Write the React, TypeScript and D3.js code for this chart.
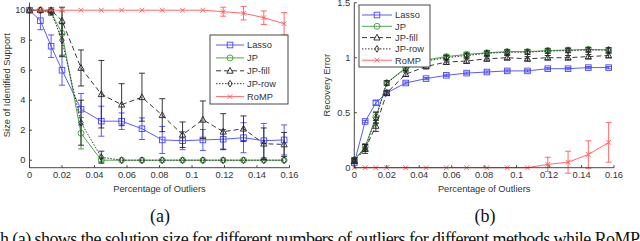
import React from "react";
import * as d3 from "d3";

// ---------- data ----------
const outlierPct = [0, 0.0067, 0.0133, 0.02, 0.0317, 0.0442, 0.0567, 0.0692, 0.0817, 0.0942, 0.1067, 0.1192, 0.1317, 0.1442, 0.1567];
const seriesNames = ["Lasso", "JP", "JP-fill", "JP-row", "RoMP"];
const xTicks = [0, 0.02, 0.04, 0.06, 0.08, 0.1, 0.12, 0.14, 0.16];
const supportTicks = [0, 2, 4, 6, 8, 10];
const recoveryTicks = [0, 0.5, 1, 1.5];

// (a) size of identified support
const lassoSupport = [10, 9.3, 7.6, 6.0, 3.4, 2.6, 2.6, 2.1, 1.35, 1.3, 1.35, 1.4, 1.5, 1.3, 1.35];
const lassoSupportSd = [0, 0.6, 0.75, 1.0, 1.05, 1.0, 0.55, 0.72, 0.9, 0.6, 0.7, 0.65, 1.0, 1.15, 1.0];
const jpSupport = [10, 10, 9.85, 8.45, 1.8, 0, 0, 0, 0, 0, 0, 0, 0, 0, 0];
const jpSupportSd = [0, 0, 0.2, 1.5, 1.05, 0.1, 0, 0, 0, 0, 0, 0, 0, 0, 0];
const jpFillSupport = [10, 10, 10, 9.3, 6.15, 4.4, 3.7, 4.2, 3.0, 1.7, 2.7, 1.9, 2.1, 1.1, 1.05];
const jpFillSupportSd = [0, 0, 0.15, 0.9, 1.2, 2.25, 1.4, 1.6, 1.1, 0.85, 1.25, 1.2, 0.85, 1.05, 0.8];
const jpRowSupport = [10, 10, 9.9, 8.0, 2.5, 0.2, 0, 0, 0, 0, 0, 0, 0, 0, 0];
const jpRowSupportSd = [0, 0, 0.15, 1.1, 1.5, 0.4, 0, 0, 0, 0, 0, 0, 0, 0, 0];
const rompSupport = [10, 10, 10, 10, 10, 10, 10, 10, 10, 10, 10, 9.9, 9.8, 9.5, 9.1];
const rompSupportSd = [0, 0, 0, 0, 0, 0, 0, 0, 0, 0, 0, 0.3, 0.45, 0.45, 0.75];

// (b) recovery error
const lassoRecovery = [0.045, 0.42, 0.59, 0.68, 0.77, 0.81, 0.84, 0.86, 0.87, 0.88, 0.88, 0.9, 0.9, 0.91, 0.91];
const lassoRecoverySd = [0.01, 0.01, 0.02, 0.01, 0.01, 0.01, 0.01, 0.01, 0.01, 0.01, 0.01, 0.01, 0.01, 0.01, 0.01];
const jpRecovery = [0.07, 0.19, 0.46, 0.77, 0.91, 0.98, 1.01, 1.03, 1.045, 1.055, 1.055, 1.065, 1.07, 1.075, 1.07];
const jpRecoverySd = [0.02, 0.03, 0.05, 0.02, 0.02, 0.02, 0.02, 0.02, 0.02, 0.02, 0.02, 0.02, 0.02, 0.02, 0.02];
const jpFillRecovery = [0.06, 0.17, 0.38, 0.68, 0.85, 0.92, 0.96, 0.97, 0.99, 1.0, 0.99, 1.0, 1.0, 1.01, 1.02];
const jpFillRecoverySd = [0.02, 0.04, 0.05, 0.02, 0.02, 0.02, 0.02, 0.02, 0.02, 0.02, 0.02, 0.02, 0.02, 0.02, 0.02];
const jpRowRecovery = [0.07, 0.18, 0.45, 0.77, 0.9, 0.97, 1.0, 1.02, 1.04, 1.05, 1.05, 1.06, 1.065, 1.07, 1.07];
const jpRowRecoverySd = [0.02, 0.03, 0.05, 0.02, 0.02, 0.02, 0.02, 0.02, 0.02, 0.02, 0.02, 0.02, 0.02, 0.02, 0.02];
const rompRecovery = [0, 0, 0, 0, 0, 0, 0, 0, 0, 0, 0, 0.03, 0.05, 0.12, 0.23];
const rompRecoverySd = [0, 0, 0, 0, 0, 0, 0, 0, 0, 0, 0, 0.065, 0.1, 0.125, 0.18];

// ---------- styles ----------
const COLORS = ["#4747ff", "#3a9c3a", "#222", "#222", "#ff5a5a"];
const DASH = [null, null, "5,3", "1.5,1.5", null];
const MARKERS = ["square", "circle", "triangle", "diamond", "x"];
const FONT = "'Liberation Sans', Arial, Helvetica, sans-serif";
const SERIF = "'Liberation Serif', 'Times New Roman', serif";

function Marker({ type, x, y, color }: { type: string; x: number; y: number; color: string }) {
  const s = 2.8;
  const common = { fill: "none", stroke: color, strokeWidth: 0.9 };
  if (type === "square") return <rect x={x - s} y={y - s} width={2 * s} height={2 * s} {...common} />;
  if (type === "circle") return <circle cx={x} cy={y} r={s + 0.2} {...common} />;
  if (type === "triangle")
    return <path d={`M${x},${y - s - 0.6}L${x + s + 0.3},${y + s - 0.4}L${x - s - 0.3},${y + s - 0.4}Z`} {...common} />;
  if (type === "diamond")
    return <path d={`M${x},${y - s - 0.5}L${x + s - 0.6},${y}L${x},${y + s + 0.5}L${x - s + 0.6},${y}Z`} {...common} />;
  return (
    <path d={`M${x - 2.4},${y - 2.4}L${x + 2.4},${y + 2.4}M${x - 2.4},${y + 2.4}L${x + 2.4},${y - 2.4}`} {...common} />
  );
}

type PanelProps = {
  left: number;
  right: number;
  top: number;
  bottom: number;
  yDomain: [number, number];
  yTicks: number[];
  yFmt: (v: number) => string;
  values: number[][];
  sds: number[][];
  yLabel: string;
  yLabelX: number;
  legend: { x: number; y: number; w: number; h: number; row: number; lineX0: number; lineX1: number; textX: number };
};

function Panel(p: PanelProps) {
  const x = d3.scaleLinear().domain([0, 0.16]).range([p.left, p.right]);
  const y = d3.scaleLinear().domain(p.yDomain).range([p.bottom, p.top]);
  const line = d3
    .line<number>()
    .x((_, i) => x(outlierPct[i]))
    .y((v) => y(v));
  const tickLen = 2.5;
  const cap = 3;
  return (
    <g>
      {p.values.map((vals, si) => (
        <g key={si}>
          <path
            d={line(vals) || ""}
            fill="none"
            stroke={COLORS[si]}
            strokeWidth={0.9}
            strokeDasharray={DASH[si] || undefined}
          />
          {vals.map((v, i) => {
            const sd = p.sds[si][i];
            if (!sd) return null;
            const cx = x(outlierPct[i]);
            const y0 = y(v - sd);
            const y1 = y(v + sd);
            return (
              <path
                key={"e" + i}
                d={`M${cx},${y0}V${y1}M${cx - cap},${y0}H${cx + cap}M${cx - cap},${y1}H${cx + cap}`}
                stroke={COLORS[si]}
                strokeWidth={0.9}
                fill="none"
              />
            );
          })}
          {vals.map((v, i) => (
            <Marker key={"m" + i} type={MARKERS[si]} x={x(outlierPct[i])} y={y(v)} color={COLORS[si]} />
          ))}
        </g>
      ))}
      <path d={`M${p.left},${p.top}V${p.bottom}H${p.right}`} fill="none" stroke="#333" strokeWidth={0.9} />
      {xTicks.map((t) => (
        <g key={"xt" + t}>
          <line x1={x(t)} x2={x(t)} y1={p.bottom} y2={p.bottom - tickLen} stroke="#333" strokeWidth={0.9} />
          <text x={x(t)} y={p.bottom + 10} textAnchor="middle" fontSize={9.3} fill="#333" fontFamily={FONT}>
            {d3.format("~g")(t)}
          </text>
        </g>
      ))}
      {p.yTicks.map((t) => (
        <g key={"yt" + t}>
          <line x1={p.left} x2={p.left + tickLen} y1={y(t)} y2={y(t)} stroke="#333" strokeWidth={0.9} />
          <text x={p.left - 4} y={y(t) + 3.2} textAnchor="end" fontSize={9.3} fill="#333" fontFamily={FONT}>
            {p.yFmt(t)}
          </text>
        </g>
      ))}
      <text x={(p.left + p.right) / 2} y={p.bottom + 24} textAnchor="middle" fontSize={9.3} fill="#333" fontFamily={FONT}>
        Percentage of Outliers
      </text>
      <text
        transform={`translate(${p.yLabelX},${(p.top + p.bottom) / 2}) rotate(-90)`}
        textAnchor="middle"
        fontSize={9.3}
        fill="#333"
        fontFamily={FONT}
      >
        {p.yLabel}
      </text>
      <rect x={p.legend.x} y={p.legend.y} width={p.legend.w} height={p.legend.h} fill="#fff" stroke="#333" strokeWidth={0.9} />
      {seriesNames.map((name, i) => {
        const ly = p.legend.y + 10 + i * p.legend.row;
        const mx = (p.legend.lineX0 + p.legend.lineX1) / 2;
        return (
          <g key={name}>
            <line
              x1={p.legend.lineX0}
              x2={p.legend.lineX1}
              y1={ly}
              y2={ly}
              stroke={COLORS[i]}
              strokeWidth={0.9}
              strokeDasharray={DASH[i] || undefined}
            />
            <Marker type={MARKERS[i]} x={mx} y={ly} color={COLORS[i]} />
            <text x={p.legend.textX} y={ly + 3.4} fontSize={9.3} fill="#333" fontFamily={FONT}>
              {name}
            </text>
          </g>
        );
      })}
    </g>
  );
}

export default function App() {
  return (
    <svg
      width={640}
      height={241}
      style={{ position: "absolute", left: 0, top: 0, background: "#fff" }}
      xmlns="http://www.w3.org/2000/svg"
    >
      <rect width={640} height={241} fill="#fff" />
      <Panel
        left={29.5}
        right={289.5}
        top={2.7}
        bottom={167.7}
        yDomain={[-0.5, 10.5]}
        yTicks={supportTicks}
        yFmt={(v) => String(v)}
        values={[lassoSupport, jpSupport, jpFillSupport, jpRowSupport, rompSupport]}
        sds={[lassoSupportSd, jpSupportSd, jpFillSupportSd, jpRowSupportSd, rompSupportSd]}
        yLabel="Size of Identified Support"
        yLabelX={10}
        legend={{ x: 210, y: 35, w: 78, h: 69, row: 12.9, lineX0: 216, lineX1: 244, textX: 247 }}
      />
      <Panel
        left={354.3}
        right={614}
        top={2.7}
        bottom={167.7}
        yDomain={[0, 1.5]}
        yTicks={recoveryTicks}
        yFmt={(v) => String(v)}
        values={[lassoRecovery, jpRecovery, jpFillRecovery, jpRowRecovery, rompRecovery]}
        sds={[lassoRecoverySd, jpRecoverySd, jpFillRecoverySd, jpRowRecoverySd, rompRecoverySd]}
        yLabel="Recovery Error"
        yLabelX={330}
        legend={{ x: 359, y: 5, w: 71, h: 62, row: 11.3, lineX0: 362, lineX1: 392, textX: 395 }}
      />
      <text x={160} y={222} textAnchor="middle" fontSize={18} fontFamily={SERIF} fill="#111">
        (a)
      </text>
      <text x={485} y={222} textAnchor="middle" fontSize={18} fontFamily={SERIF} fill="#111">
        (b)
      </text>
      <text x={0} y={245} fontSize={18} fontFamily={SERIF} fill="#111" textLength={640} lengthAdjust="spacing">
        h (a) shows the solution size for different numbers of outliers for different methods while RoMP
      </text>
    </svg>
  );
}
